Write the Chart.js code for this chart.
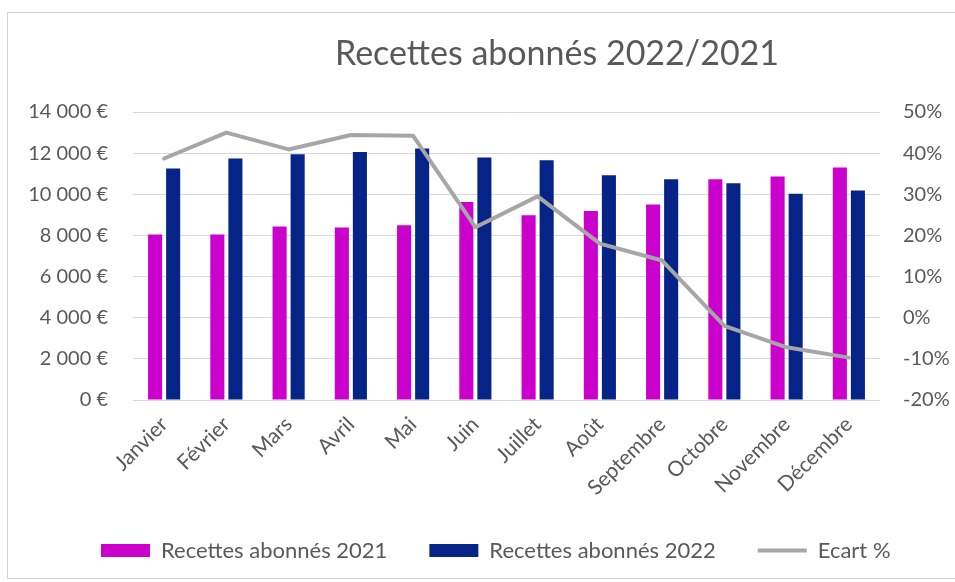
<!DOCTYPE html>
<html lang="fr">
<head>
<meta charset="utf-8">
<title>Recettes abonnés 2022/2021</title>
<script src="https://cdn.jsdelivr.net/npm/chart.js@4.4.1/dist/chart.umd.min.js"></script>
<style>
  html, body { margin: 0; padding: 0; background: #ffffff; overflow: hidden; }
  #frame { position: absolute; left: 7px; top: 12px; width: 1000px; height: 567px; border: 1px solid #d4d4d4; box-sizing: border-box; }
  #wrap { position: absolute; left: 0; top: 0; width: 955px; height: 582px; }
</style>
</head>
<body>
<div id="frame"></div>
<div id="wrap"><canvas id="c" width="955" height="582"></canvas></div>
<script>
const categories = ['Janvier', 'Février', 'Mars', 'Avril', 'Mai', 'Juin', 'Juillet', 'Août', 'Septembre', 'Octobre', 'Novembre', 'Décembre'];
const recettes2021 = [8050, 8050, 8440, 8380, 8490, 9630, 8980, 9190, 9500, 10730, 10860, 11300];
const recettes2022 = [11250, 11740, 11950, 12060, 12230, 11790, 11660, 10930, 10730, 10540, 10030, 10180];
const ecartPct = [38.7, 45.0, 40.9, 44.4, 44.2, 22.0, 29.5, 18.0, 13.9, -2.0, -7.2, -9.7];
const seriesLabels = ['Recettes abonnés 2021', 'Recettes abonnés 2022', 'Ecart %'];
const chartTitle = 'Recettes abonnés 2022/2021';

const TXT = '#595959';
const FONT = 'Lato';

function euro(v) {
  const s = Math.round(v).toString().replace(/\B(?=(\d{3})+(?!\d))/g, ' ');
  return s + ' €';
}

const PL = 20, PR = 0;
const TITLE_SHIFT = 69.5;   // title is centred over the full (cropped) Excel chart, right of canvas centre
const LEGEND_SHIFT = 39;

const offsetBlocks = {
  id: 'offsetBlocks',
  afterLayout(chart) {
    if (chart.titleBlock) { chart.titleBlock.left += TITLE_SHIFT; chart.titleBlock.right += TITLE_SHIFT; }
    if (chart.legend) { chart.legend.left += LEGEND_SHIFT; chart.legend.right += LEGEND_SHIFT; }
  }
};

new Chart(document.getElementById('c'), {
  data: {
    labels: categories,
    datasets: [
      { type: 'bar', label: seriesLabels[0], data: recettes2021, backgroundColor: '#CC00CC', borderWidth: 0, yAxisID: 'y', order: 1, categoryPercentage: 0.58, barPercentage: 0.78 },
      { type: 'bar', label: seriesLabels[1], data: recettes2022, backgroundColor: '#062488', borderWidth: 0, yAxisID: 'y', order: 1, categoryPercentage: 0.58, barPercentage: 0.78 },
      { type: 'line', label: seriesLabels[2], data: ecartPct, borderColor: '#A6A6A6', backgroundColor: '#A6A6A6', borderWidth: 4, pointRadius: 0, tension: 0, yAxisID: 'y1', order: 0, borderCapStyle: 'round', borderJoinStyle: 'round' }
    ]
  },
  plugins: [offsetBlocks],
  options: {
    responsive: false,
    animation: false,
    devicePixelRatio: 1,
    layout: { padding: { left: PL, right: PR, top: 13, bottom: 10.5 } },
    plugins: {
      tooltip: { enabled: false },
      title: {
        display: true,
        text: chartTitle,
        color: TXT,
        font: { family: FONT, size: 34, weight: 'normal' },
        padding: { top: 21, bottom: 37.2 }
      },
      legend: {
        position: 'bottom',
        align: 'start',
        labels: {
          color: TXT,
          font: { family: FONT, size: 22 },
          usePointStyle: true,
          pointStyleWidth: 49,
          boxHeight: 13,
          padding: 42,
          sort: (a, b) => a.datasetIndex - b.datasetIndex,
          generateLabels: (chart) => {
            const items = Chart.defaults.plugins.legend.labels.generateLabels(chart);
            items.forEach(it => {
              const ds = chart.data.datasets[it.datasetIndex];
              if (ds.type === 'line') {
                it.pointStyle = 'line';
                it.strokeStyle = ds.borderColor;
                it.lineWidth = 4;
              } else {
                it.pointStyle = 'rect';
                it.lineWidth = 0;
              }
            });
            return items;
          }
        }
      }
    },
    scales: {
      x: {
        grid: { display: false },
        border: { display: false },
        ticks: { color: TXT, font: { family: FONT, size: 21 }, minRotation: 45, maxRotation: 45, padding: 4 },
        afterFit: (s) => { s.height = 97.5; }
      },
      y: {
        position: 'left',
        min: 0, max: 14000,
        grid: { color: '#D9D9D9', lineWidth: 1, drawTicks: false },
        border: { display: false },
        ticks: { stepSize: 2000, color: TXT, font: { family: FONT, size: 20 }, padding: 25, callback: (v) => euro(v) },
        afterFit: (s) => { s.width = 133 - PL; }
      },
      y1: {
        position: 'right',
        min: -20, max: 50,
        grid: { display: false, drawTicks: false },
        border: { display: false },
        ticks: { stepSize: 10, color: TXT, font: { family: FONT, size: 20 }, padding: 23, callback: (v) => v + '%' },
        afterFit: (s) => { s.width = (955 - PR) - 880; }
      }
    }
  }
});
</script>
</body>
</html>
